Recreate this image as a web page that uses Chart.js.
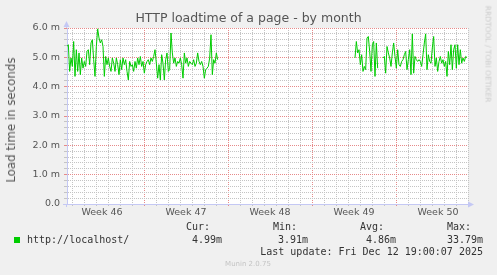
<!DOCTYPE html>
<html><head><meta charset="utf-8">
<script src="https://cdn.jsdelivr.net/npm/chart.js@4/dist/chart.umd.min.js"></script>
<style>
html,body{margin:0;padding:0;background:#f0f0f0;}
#wrap{position:relative;width:497px;height:275px;overflow:hidden;background:#f0f0f0;}
#c{position:absolute;left:0;top:0;}
.m{position:absolute;white-space:nowrap;font-family:'DejaVu Sans Mono',monospace;font-size:10px;line-height:12px;color:#333;}
.s{position:absolute;white-space:nowrap;font-family:'DejaVu Sans',sans-serif;}
</style></head>
<body><div id="wrap"><canvas id="c" width="497" height="275"></canvas></div>
<script>
// ---- data ----
const chartTitle = 'HTTP loadtime of a page - by month';
const yAxisTitle = 'Load time in seconds';
const sampleStepHours = 8 / 3;          // one sample every 2h40m
const seg1StartHour = 0;
const seg1Values = [5.37,5.43,4.52,4.98,4.69,5.54,4.35,5.26,4.52,5.15,
  4.41,4.98,4.63,4.86,4.69,5.20,5.26,4.75,5.49,5.60,
  4.92,4.35,5.37,5.97,5.66,5.49,5.60,5.37,4.35,5.03,
  4.75,4.98,4.69,4.52,4.98,4.80,4.52,4.98,4.75,4.41,
  4.92,4.58,4.98,4.75,4.92,4.52,4.23,4.86,4.69,4.75,
  4.52,4.86,4.63,4.98,4.75,5.03,4.69,4.86,4.46,4.75,
  4.86,4.92,4.75,4.98,4.86,5.03,5.26,4.80,4.29,4.75,
  4.23,5.09,4.80,4.23,4.92,5.15,4.52,4.58,5.83,5.15,
  4.80,4.98,4.69,4.86,4.80,4.98,4.75,4.29,5.15,4.80,
  4.98,4.69,4.86,4.80,4.75,4.92,4.69,4.80,5.15,4.86,
  4.75,4.86,4.69,4.29,4.58,4.63,4.69,4.98,5.77,4.41,
  4.92,4.80,5.15,4.92];
const seg2aStartHour = 576;
const seg2aValues = [4.98,5.54,5.15,5.26,4.75,5.09,4.52,4.69,4.58,5.66,5.71,5.20,4.52,5.43,5.54,4.35,5.49,4.63];
const seg2bStartHour = 632;
const seg2bValues = [4.98,5.03,4.46,5.37,5.15,4.98,4.69,5.15,5.49,5.03,
  4.63,5.26,4.75,4.69,4.86,4.92,5.09,5.20,4.58,4.92,
  5.26,4.41,5.80,4.46,5.03,4.92,4.86,4.92,4.86,4.69,
  5.09,5.49,5.80,4.58,5.09,4.86,4.80,5.32,5.71,4.69,
  4.98,4.52,4.86,5.03,4.80,4.92,4.69,4.86,4.35,5.20,
  4.75,5.43,4.58,5.26,5.43,4.63,5.43,4.75,5.26,4.80,
  4.98,4.86,5.03,4.99];
const axisEndHour = 802;
const weekStartHours = [-14, 154, 322, 490, 658];
const weekLabels = ['Week 46', 'Week 47', 'Week 48', 'Week 49', 'Week 50'];
const yTickValues = [0, 1, 2, 3, 4, 5, 6];
const yTickLabels = ['0.0', '1.0 m', '2.0 m', '3.0 m', '4.0 m', '5.0 m', '6.0 m'];
const seriesName = 'http://localhost/';
const statHeads = ['Cur:', 'Min:', 'Avg:', 'Max:'];
const statValues = ['4.99m', '3.91m', '4.86m', '33.79m'];
const lastUpdate = 'Last update: Fri Dec 12 19:00:07 2025';
const footer = 'Munin 2.0.75';
const sideText = 'RRDTOOL / TOBI OETIKER';

// ---- build points ----
function segPoints(start, vals) { return vals.map((v, i) => ({x: start + i * sampleStepHours, y: v})); }
const points = [].concat(
  segPoints(seg1StartHour, seg1Values), [{x: 400, y: null}],
  segPoints(seg2aStartHour, seg2aValues), [{x: 628, y: null}],
  segPoints(seg2bStartHour, seg2bValues));

const GREEN = '#00cc00';
const MINOR = '#c4c4c4';
const MAJOR = '#e68a8a';
const AXIS = '#c4c8f4';
const TXT = '#555555';

function isDay(v) { return ((v - weekStartHours[1]) % 24 + 24) % 24 === 0; }
function isWeek(v) { return weekStartHours.includes(v); }
function weekLabelAt(v) { const i = weekStartHours.findIndex(s => s + 84 === v); return i >= 0 ? weekLabels[i] : ''; }

const bgPlugin = {
  id: 'bg',
  beforeDraw(chart) {
    const {ctx, chartArea: a} = chart;
    ctx.save(); ctx.fillStyle = '#ffffff';
    ctx.fillRect(a.left, a.top, a.right - a.left, a.bottom - a.top);
    ctx.restore();
  },
  afterDraw(chart) {
    const {ctx, chartArea: a} = chart;
    ctx.save();
    ctx.strokeStyle = AXIS; ctx.fillStyle = AXIS; ctx.lineWidth = 1;
    const x = Math.round(a.left) - 0.5, y = Math.round(a.bottom) + 0.5;
    ctx.beginPath();
    ctx.moveTo(x, a.top); ctx.lineTo(x, 26);
    ctx.moveTo(x, a.bottom); ctx.lineTo(x, a.bottom + 3);
    ctx.moveTo(a.left - 4, y); ctx.lineTo(a.left, y);
    ctx.moveTo(a.right, y); ctx.lineTo(a.right + 2, y);
    ctx.stroke();
    ctx.beginPath(); ctx.moveTo(x - 3, 27); ctx.lineTo(x + 3, 27); ctx.lineTo(x, 21); ctx.closePath(); ctx.fill();
    ctx.beginPath(); ctx.moveTo(a.right, y - 3); ctx.lineTo(a.right, y + 3); ctx.lineTo(a.right + 6, y); ctx.closePath(); ctx.fill();
    ctx.restore();
  }
};

Chart.defaults.font.family = "'DejaVu Sans', sans-serif";
new Chart(document.getElementById('c'), {
  type: 'line',
  data: { datasets: [{ data: points, borderColor: GREEN, borderWidth: 1, pointRadius: 0, tension: 0, spanGaps: false, fill: false }] },
  plugins: [bgPlugin],
  options: {
    responsive: false, animation: false, devicePixelRatio: 1,
    layout: { padding: 0 },
    plugins: {
      legend: { display: false }, tooltip: { enabled: false },
      title: { display: true, text: chartTitle, color: TXT, font: { size: 12.5, weight: 'normal' }, padding: { top: 11, bottom: 2 } }
    },
    scales: {
      x: {
        type: 'linear', min: 0, max: axisEndHour,
        afterBuildTicks(s) { const t = []; for (let v = 10; v <= axisEndHour; v += 12) t.push({value: v}); s.ticks = t; },
        afterFit(s) { s.height = 71; },
        ticks: { autoSkip: false, maxRotation: 0, color: TXT, font: { size: 9.5 }, padding: 1, callback: v => weekLabelAt(v) },
        grid: {
          color: c => (c.tick && isDay(c.tick.value)) ? (isWeek(c.tick.value) ? MAJOR : MINOR) : 'rgba(0,0,0,0)',
          tickColor: c => (c.tick && isDay(c.tick.value)) ? (isWeek(c.tick.value) ? MAJOR : MINOR) : 'rgba(0,0,0,0)',
          tickLength: 2, drawTicks: true
        },
        border: { display: true, color: AXIS, dash: [1, 1] }
      },
      y: {
        type: 'linear', min: 0, max: 6, position: 'left',
        afterBuildTicks(s) { const t = []; for (let i = 0; i <= 30; i++) t.push({value: i / 5}); s.ticks = t; },
        afterFit(s) { s.width = 67; },
        ticks: { autoSkip: false, color: TXT, font: { size: 9.5 }, padding: 4,
          callback: v => { const i = yTickValues.findIndex(t => Math.abs(t - v) < 1e-6); return i >= 0 ? yTickLabels[i] : ''; } },
        grid: {
          color: c => { const v = c.tick ? c.tick.value : 0; return Math.abs(v - Math.round(v)) < 1e-6 ? MAJOR : MINOR; },
          tickColor: c => { const v = c.tick ? c.tick.value : 0; return Math.abs(v - Math.round(v)) < 1e-6 ? MAJOR : MINOR; },
          tickLength: 3
        },
        border: { display: true, color: AXIS, dash: [1, 1] }
      },
      pad: {
        type: 'linear', position: 'right', min: 0, max: 1,
        afterFit(s) { s.width = 29; },
        ticks: { display: false }, grid: { display: false }, border: { display: false }
      }
    }
  }
});

// ---- text overlays ----
const wrap = document.getElementById('wrap');
function addText(cls, txt, css) { const d = document.createElement('div'); d.className = cls; d.textContent = txt; d.style.cssText = css; wrap.appendChild(d); return d; }
const headLeft = [186, 273, 360, 447];
const valLeft = [192, 278, 366, 447];
statHeads.forEach((h, i) => addText('m', h, `left:${headLeft[i]}px;top:221px;`));
statValues.forEach((v, i) => addText('m', v, `left:${valLeft[i]}px;top:234px;`));
addText('m', seriesName, 'left:27px;top:234px;');
const sq = document.createElement('div'); sq.style.cssText = `position:absolute;left:14px;top:237px;width:6px;height:6px;background:${GREEN};`; wrap.appendChild(sq);
addText('m', lastUpdate, 'right:14px;top:246px;');
addText('s', footer, 'left:248px;top:264px;transform:translate(-50%,-50%);font-size:7px;color:#c4c4c4;');
addText('s', yAxisTitle, `left:11px;top:120px;transform:translate(-50%,-50%) rotate(-90deg);font-size:11.8px;color:${TXT};`);
addText('s', sideText, 'left:488px;top:54px;transform:translate(-50%,-50%) rotate(90deg);font-size:7.5px;color:#cccccc;');
</script>
</body></html>
